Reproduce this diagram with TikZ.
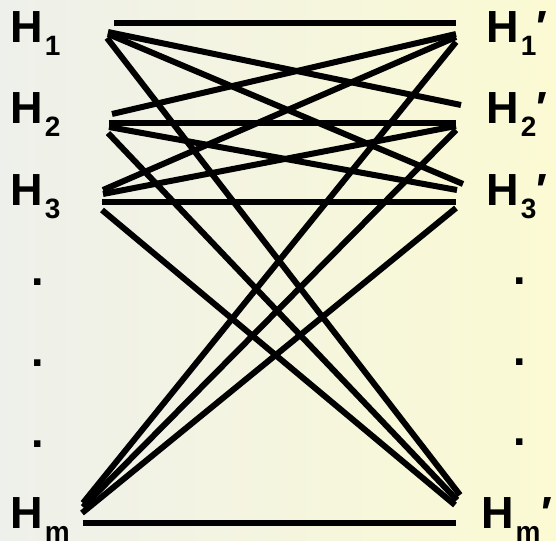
\documentclass[tikz,border=0pt]{standalone}
\usepackage{fontspec}
\setmainfont{Liberation Sans}
\definecolor{bgleft}{HTML}{EEF0EB}
\definecolor{bgright}{HTML}{FBFAD3}
\newcommand{\hsub}[1]{\kern1.5pt\raisebox{-13pt}{\fontsize{28}{28}\selectfont #1}}
\tikzset{
  lab/.style={anchor=base west, inner sep=0pt, font=\fontsize{45}{45}\selectfont\bfseries},
  dot/.style={anchor=center, inner sep=0pt, font=\fontsize{45}{45}\selectfont\bfseries},
  edge/.style={line width=6pt, black}
}
\begin{document}
\begin{tikzpicture}[x=1pt,y=-1pt]
\shade[left color=bgleft, right color=bgright] (0,0) rectangle (556,540);
\useasboundingbox (0,0) rectangle (556,540);
% labels
\node[lab] (H1) at (10.7,43) {H\hsub{1}};
\node[lab] (H2) at (10.7,124) {H\hsub{2}};
\node[lab] (H3) at (10.7,205) {H\hsub{3}};
\node[lab] (Hm) at (10.7,528) {H\hsub{m}};
\node[lab] (K1) at (486.7,43) {H\hsub{1}′};
\node[lab] (K2) at (486.7,124) {H\hsub{2}′};
\node[lab] (K3) at (486.7,205) {H\hsub{3}′};
\node[lab] (Km) at (481.5,528) {H\hsub{m}\kern1pt′};
\node[dot] (d1) at (38,282) {.};
\node[dot] (d2) at (38,363) {.};
\node[dot] (d3) at (38,444) {.};
\node[dot] (e1) at (520,281) {.};
\node[dot] (e2) at (520,362) {.};
\node[dot] (e3) at (520,442) {.};
% endpoints left
\coordinate (l1h) at (114,23);
\coordinate (l1a) at (108,32);
\coordinate (l1b) at (108,34);
\coordinate (l1c) at (107,38);
\coordinate (l2a) at (112,114);
\coordinate (l2h) at (109,123);
\coordinate (l2b) at (109,127);
\coordinate (l2c) at (108,133);
\coordinate (l3a) at (103,190);
\coordinate (l3b) at (103,194);
\coordinate (l3h) at (102,202);
\coordinate (l3c) at (102,210);
\coordinate (lma) at (83,503);
\coordinate (lmb) at (83,507);
\coordinate (lmc) at (82,513);
\coordinate (lmh) at (83,523);
% endpoints right
\coordinate (r1h) at (456,23);
\coordinate (r1a) at (456,34);
\coordinate (r1b) at (456,37);
\coordinate (r1c) at (456,42);
\coordinate (r2a) at (461,105);
\coordinate (r2h) at (456,123);
\coordinate (r2b) at (456,126);
\coordinate (r2c) at (456,130);
\coordinate (r3a) at (463,184);
\coordinate (r3b) at (457,190);
\coordinate (r3h) at (456,202);
\coordinate (r3c) at (456,208);
\coordinate (rma) at (460,495);
\coordinate (rmb) at (457,500);
\coordinate (rmc) at (455,505);
\coordinate (rmh) at (456,523);
% connectors
\draw[edge] (l1h) -- (r1h);
\draw[edge] (l1a) -- (r2a);
\draw[edge] (l1b) -- (r3a);
\draw[edge] (l1c) -- (rma);
\draw[edge] (l2a) -- (r1a);
\draw[edge] (l2h) -- (r2h);
\draw[edge] (l2b) -- (r3b);
\draw[edge] (l2c) -- (rmb);
\draw[edge] (l3a) -- (r1b);
\draw[edge] (l3b) -- (r2b);
\draw[edge] (l3h) -- (r3h);
\draw[edge] (l3c) -- (rmc);
\draw[edge] (lma) -- (r1c);
\draw[edge] (lmb) -- (r2c);
\draw[edge] (lmc) -- (r3c);
\draw[edge] (lmh) -- (rmh);
\end{tikzpicture}
\end{document}
